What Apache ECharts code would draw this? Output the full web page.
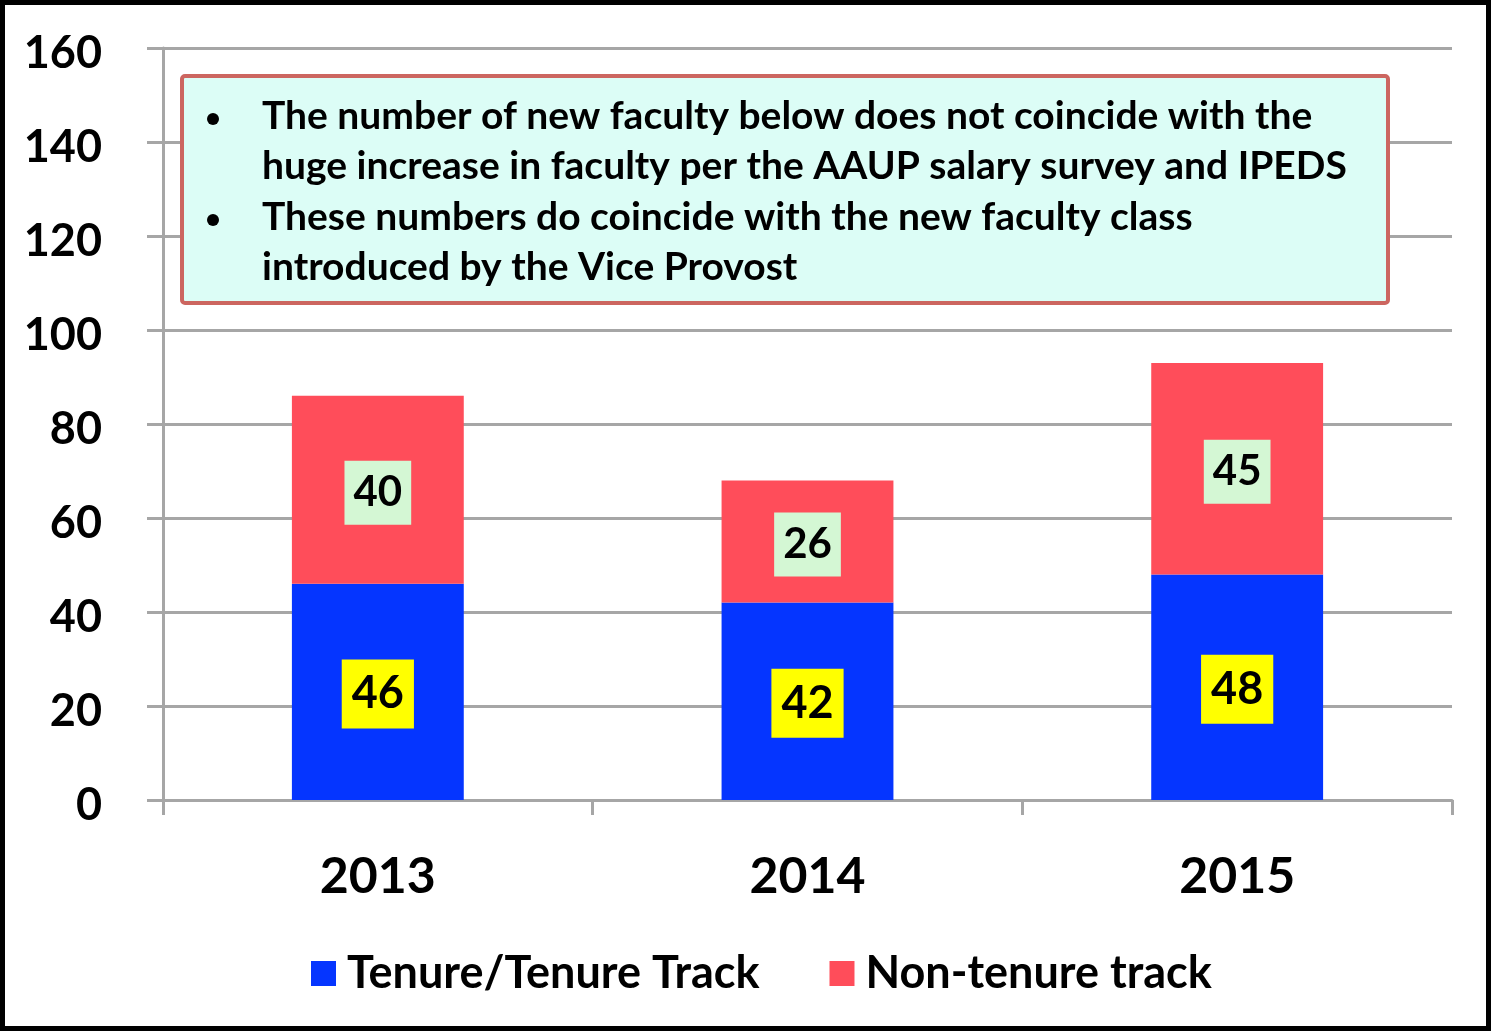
<!DOCTYPE html>
<html>
<head>
<meta charset="utf-8">
<script src="https://cdn.jsdelivr.net/npm/echarts@6/dist/echarts.min.js"></script>
<style>
  html, body { margin: 0; padding: 0; background: #fff; }
  #chart { width: 1491px; height: 1031px; }
</style>
</head>
<body>
<div id="chart"></div>
<script>
// New faculty hires by year, split by track
const years = ['2013', '2014', '2015'];
const tenureTrack = [46, 42, 48];
const nonTenure = [40, 26, 45];
const yTicks = [0, 20, 40, 60, 80, 100, 120, 140, 160];
const seriesNames = ['Tenure/Tenure Track', 'Non-tenure track'];
const noteLines = [
  'The number of new faculty below does not coincide with the',
  'huge increase in faculty per the AAUP salary survey and IPEDS',
  'These numbers do coincide with the new faculty class',
  'introduced by the Vice Provost'
];

const FONT = 'Lato, "Open Sans", sans-serif';
const gridColor = '#a6a6a6';

const chart = echarts.init(document.getElementById('chart'));

const noteX = 182, noteY = 76, noteW = 1206, noteH = 227;
const lineTops = [97, 147, 198, 248];
const noteGraphics = [
  {
    type: 'rect',
    shape: { x: noteX, y: noteY, width: noteW, height: noteH, r: 3 },
    style: { fill: '#dcfdf6', stroke: '#cc6660', lineWidth: 4 },
    z: 10
  }
];
noteLines.forEach((t, i) => {
  noteGraphics.push({
    type: 'text',
    x: 262, y: lineTops[i],
    style: { text: t, font: 'bold 39px ' + FONT, fill: '#000' },
    z: 11
  });
});
[0, 2].forEach(i => {
  noteGraphics.push({
    type: 'circle',
    shape: { cx: 213, cy: lineTops[i] + 22, r: 6 },
    style: { fill: '#000' },
    z: 11
  });
});
noteGraphics.push({
  type: 'rect',
  shape: { x: 2.5, y: 2.5, width: 1486, height: 1026 },
  style: { fill: 'none', stroke: '#000', lineWidth: 5 },
  z: 20
});

chart.setOption({
  animation: false,
  grid: { left: 163, right: 39, top: 48, bottom: 231, containLabel: false },
  legend: {
    bottom: 30,
    left: 306,
    itemWidth: 25,
    itemHeight: 25,
    itemGap: 70,
    icon: 'rect',
    textStyle: { fontFamily: FONT, fontWeight: 'bold', fontSize: 45, color: '#000', padding: [0, 0, 0, 6] },
    data: seriesNames
  },
  xAxis: {
    type: 'category',
    data: years,
    axisLine: { lineStyle: { color: gridColor, width: 3 } },
    axisTick: { show: true, length: 15, lineStyle: { color: gridColor, width: 3 } },
    axisLabel: { margin: 52, fontFamily: FONT, fontWeight: 'bold', fontSize: 50, color: '#000' }
  },
  yAxis: {
    type: 'value',
    min: 0, max: 160, interval: 20,
    axisLine: { show: true, lineStyle: { color: gridColor, width: 3 } },
    axisTick: { show: true, length: 16, lineStyle: { color: gridColor, width: 3 } },
    splitLine: { lineStyle: { color: gridColor, width: 3 } },
    axisLabel: {
      margin: 61, color: '#000',
      formatter: v => yTicks.includes(v) ? '{v|' + v + '}' : '',
      rich: {
        v: { fontFamily: FONT, fontWeight: 'bold', fontSize: 45, color: '#000', padding: [10, 0, 0, 0] }
      }
    }
  },
  series: [
    {
      name: seriesNames[0],
      type: 'bar',
      stack: 'hires',
      data: tenureTrack,
      barWidth: '40%',
      itemStyle: { color: '#0535ff' },
      label: {
        show: true, position: 'inside', offset: [0, 2],
        fontFamily: FONT, fontWeight: 'bold', fontSize: 45, color: '#000',
        backgroundColor: '#ffff00', padding: [13, 10, 11, 10]
      }
    },
    {
      name: seriesNames[1],
      type: 'bar',
      stack: 'hires',
      data: nonTenure,
      barWidth: '40%',
      itemStyle: { color: '#ff4d5a' },
      label: {
        show: true, position: 'inside', offset: [0, 3],
        fontFamily: FONT, fontWeight: 'bold', fontSize: 42, color: '#000',
        backgroundColor: '#d4f7d4', padding: [12, 9, 10, 9]
      }
    }
  ],
  graphic: noteGraphics
});
</script>
</body>
</html>
